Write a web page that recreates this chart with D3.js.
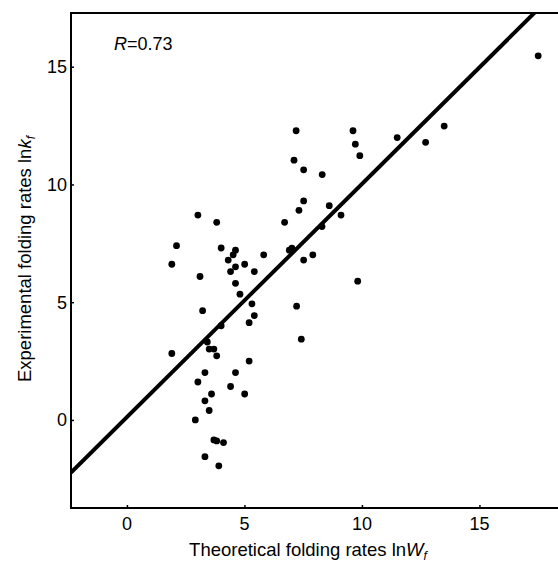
<!DOCTYPE html>
<html>
<head>
<meta charset="utf-8">
<script src="https://cdn.jsdelivr.net/npm/d3@7"></script>
<style>
  body { margin: 0; background: #fff; }
  text { font-family: "Liberation Sans", Arial, sans-serif; fill: #000; }
</style>
</head>
<body>
<div id="chart"></div>
<script>
// theoretical lnWf (x) and experimental lnkf (y)
const theo = [3.02, 3.82, 2.11, 1.91, 4.01, 4.62, 4.52, 4.31, 4.62, 4.41, 5.01, 5.42, 5.82,
  3.11, 4.62, 4.81, 3.22, 5.32, 5.42, 5.20, 4.01, 3.42, 3.50, 3.70, 3.82, 1.91, 5.20,
  3.32, 4.62, 3.02, 3.60, 4.41, 5.01, 3.32, 3.50, 2.91, 3.70, 3.82, 4.11, 3.32, 3.91,
  7.22, 7.42, 9.82, 6.71, 7.32, 7.52, 8.61, 9.11, 8.30, 6.91, 7.02, 7.52, 7.91,
  7.20, 9.62, 9.72, 9.91, 11.50, 12.71, 13.50, 7.11, 7.52, 8.31, 17.50]
const expt = [8.70, 8.39, 7.40, 6.61, 7.30, 7.21, 7.01, 6.79, 6.50, 6.30, 6.61, 6.30, 7.01,
  6.09, 5.80, 5.34, 4.64, 4.93, 4.43, 4.13, 4.00, 3.31, 3.01, 3.01, 2.72, 2.82, 2.50,
  2.01, 2.01, 1.61, 1.10, 1.42, 1.10, 0.81, 0.40, 0.00, -0.85, -0.89, -0.96, -1.56, -1.95,
  4.83, 3.43, 5.89, 8.39, 8.90, 9.30, 9.10, 8.70, 8.21, 7.21, 7.29, 6.79, 7.01,
  12.28, 12.28, 11.71, 11.22, 11.99, 11.79, 12.48, 11.03, 10.62, 10.42, 15.46]
const xTicks = [0, 5, 10, 15]
const yTicks = [0, 5, 10, 15]
const fit = { slope: 0.99, intercept: 0.12 }
const rLabel = '0.73'

const width = 558, height = 563
const margin = { left: 71, top: 13, right: 0, bottom: 55 }

const x = d3.scaleLinear().domain([-2.38, 18.4]).range([margin.left, margin.left + 23.5 * 20.78])
const y = d3.scaleLinear().domain([-3.74, 17.28]).range([height - margin.bottom, margin.top])

const svg = d3.select('#chart').append('svg')
  .attr('width', width)
  .attr('height', height)

svg.append('clipPath').attr('id', 'plot')
  .append('rect')
  .attr('x', margin.left).attr('y', margin.top)
  .attr('width', width - margin.left).attr('height', height - margin.bottom - margin.top)

// regression line
const x0 = x.domain()[0], x1 = x.domain()[1]
svg.append('line')
  .attr('clip-path', 'url(#plot)')
  .attr('x1', x(x0)).attr('y1', y(fit.slope * x0 + fit.intercept))
  .attr('x2', x(x1)).attr('y2', y(fit.slope * x1 + fit.intercept))
  .attr('stroke', '#000')
  .attr('stroke-width', 4)

svg.append('g')
  .selectAll('circle')
  .data(theo.map((d, i) => [d, expt[i]]))
  .join('circle')
  .attr('cx', d => x(d[0]))
  .attr('cy', d => y(d[1]))
  .attr('r', 3.4)
  .attr('fill', '#000')

// axes: inner ticks, no labels from d3 (placed by hand below)
const xAxis = d3.axisTop(x).tickValues(xTicks).tickSize(3).tickFormat('')
const yAxis = d3.axisRight(y).tickValues(yTicks).tickSize(3).tickFormat('')

const gx = svg.append('g')
  .attr('transform', `translate(0, ${height - margin.bottom})`)
  .call(xAxis)
const gy = svg.append('g')
  .attr('transform', `translate(${margin.left}, 0)`)
  .call(yAxis)
;[gx, gy].forEach(g => {
  g.select('.domain').remove()
  g.selectAll('.tick line').attr('stroke', '#000').attr('stroke-width', 1.5)
})

// spines: left, bottom, top
svg.append('path')
  .attr('d', `M${width},${margin.top}H${margin.left}V${height - margin.bottom}H${width}`)
  .attr('fill', 'none')
  .attr('stroke', '#000')
  .attr('stroke-width', 2)

svg.append('g')
  .selectAll('text')
  .data(xTicks)
  .join('text')
  .attr('x', d => x(d))
  .attr('y', 530)
  .attr('text-anchor', 'middle')
  .attr('font-size', 18)
  .text(d => d)

svg.append('g')
  .selectAll('text')
  .data(yTicks)
  .join('text')
  .attr('x', 67)
  .attr('y', d => y(d))
  .attr('dy', '0.36em')
  .attr('text-anchor', 'end')
  .attr('font-size', 18)
  .text(d => d)

const xt = svg.append('text')
  .attr('x', 308).attr('y', 556)
  .attr('text-anchor', 'middle')
  .attr('font-size', 18.5)
xt.append('tspan').text('Theoretical folding rates ln')
xt.append('tspan').attr('font-style', 'italic').text('W')
xt.append('tspan').attr('font-style', 'italic').attr('font-size', 12).attr('dy', 4).text('f')

const yt = svg.append('text')
  .attr('transform', 'translate(31, 259) rotate(-90)')
  .attr('text-anchor', 'middle')
  .attr('font-size', 18.5)
yt.append('tspan').text('Experimental folding rates ln')
yt.append('tspan').attr('font-style', 'italic').text('k')
yt.append('tspan').attr('font-style', 'italic').attr('font-size', 12).attr('dy', 4).text('f')

const rt = svg.append('text')
  .attr('x', 114).attr('y', 50)
  .attr('font-size', 18)
rt.append('tspan').attr('font-style', 'italic').text('R')
rt.append('tspan').text('=' + rLabel)
</script>
</body>
</html>
